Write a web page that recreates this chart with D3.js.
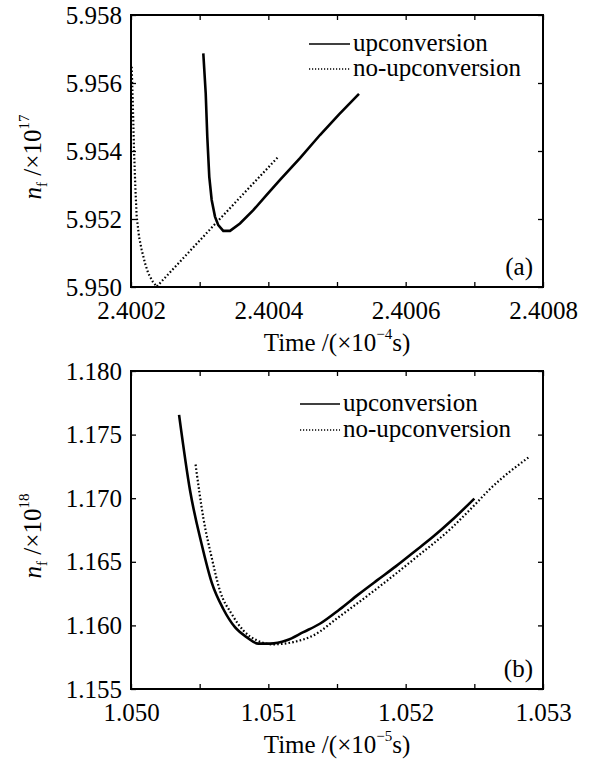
<!DOCTYPE html>
<html><head><meta charset="utf-8">
<script src="https://cdn.jsdelivr.net/npm/d3@7/dist/d3.min.js"></script>
<style>
body{margin:0;background:#fff;}
svg text{font-family:"Liberation Serif","Times New Roman",serif;fill:#000;}
</style></head>
<body><svg id="c" width="589" height="760"></svg>
<script>
// ---------- Panel (a) data ----------
const timeA_up = [2.4003053, 2.4003088, 2.4003111, 2.4003140, 2.4003175, 2.4003223, 2.4003271, 2.4003344, 2.4003442, 2.4003587, 2.4003781, 2.4003976, 2.4004170, 2.4004461, 2.4004752, 2.4005030, 2.4005320];
const nfA_up   = [5.95687, 5.95570, 5.95442, 5.95324, 5.95256, 5.95207, 5.95182, 5.95165, 5.95165, 5.95187, 5.95226, 5.95271, 5.95315, 5.95379, 5.95447, 5.95508, 5.95568];
const timeA_no = [2.4002010, 2.4002025, 2.4002044, 2.4002063, 2.4002083, 2.4002117, 2.4002156, 2.4002204, 2.4002252, 2.4002316, 2.4002374, 2.4003200, 2.4004145];
const nfA_no   = [5.95648, 5.95550, 5.95403, 5.95295, 5.95207, 5.95148, 5.95109, 5.95070, 5.95040, 5.95016, 5.95001, 5.95180, 5.95383];
const xTicksA = [2.4002, 2.4004, 2.4006, 2.4008];
const xMinorA = [2.4003, 2.4005, 2.4007];
const yTicksA = [5.950, 5.952, 5.954, 5.956, 5.958];

// ---------- Panel (b) data ----------
const timeB_up = [1.050350, 1.050430, 1.050515, 1.050588, 1.050672, 1.050757, 1.050842, 1.050927, 1.051012, 1.051134, 1.051255, 1.051378, 1.051518, 1.051654, 1.051791, 1.051928, 1.052065, 1.052201, 1.052338, 1.052500];
const nfB_up   = [1.17655, 1.17060, 1.16636, 1.16336, 1.16129, 1.15986, 1.15908, 1.15857, 1.15857, 1.15883, 1.15947, 1.16015, 1.16125, 1.16242, 1.16354, 1.16464, 1.16581, 1.16698, 1.16828, 1.16997];
const timeB_no = [1.050470, 1.050527, 1.050588, 1.050648, 1.050733, 1.050818, 1.050915, 1.051036, 1.051182, 1.051327, 1.051518, 1.051791, 1.052065, 1.052338, 1.052500, 1.052612, 1.052900];
const nfB_no   = [1.17265, 1.16843, 1.16531, 1.16272, 1.16090, 1.15960, 1.15883, 1.15851, 1.15869, 1.15921, 1.16070, 1.16290, 1.16525, 1.16770, 1.16945, 1.17070, 1.17325];
const xTicksB = [1.050, 1.051, 1.052, 1.053];
const xMinorB = [1.0505, 1.0515, 1.0525];
const yTicksB = [1.155, 1.160, 1.165, 1.170, 1.175, 1.180];

const seriesNames = ["upconversion", "no-upconversion"];

const FONT = '"Liberation Serif", "Times New Roman", serif';
const FS = "25px";
const svg = d3.select("#c");

function panel(o){
  const g = svg.append("g");
  const x = d3.scaleLinear().domain(o.xDomain).range([o.left, o.right]);
  const y = d3.scaleLinear().domain(o.yDomain).range([o.bottom, o.top]);
  const allX = o.xTicks.concat(o.xMinor).sort(d3.ascending);
  const gb = g.append("g").attr("transform",`translate(0,${o.bottom})`)
    .call(d3.axisBottom(x).tickValues(allX).tickSize(-5).tickSizeOuter(0).tickPadding(14)
      .tickFormat(d => o.xTicks.some(t=>Math.abs(t-d)<1e-9) ? o.xFmt(d) : ""));
  const gt = g.append("g").attr("transform",`translate(0,${o.top})`)
    .call(d3.axisTop(x).tickValues(allX).tickSize(-5).tickSizeOuter(0).tickFormat(""));
  const gl = g.append("g").attr("transform",`translate(${o.left},0)`)
    .call(d3.axisLeft(y).tickValues(o.yTicks).tickSize(-5).tickSizeOuter(0).tickPadding(9).tickFormat(d3.format(".3f")));
  const gr = g.append("g").attr("transform",`translate(${o.right},0)`)
    .call(d3.axisRight(y).tickValues(o.yTicks).tickSize(-5).tickSizeOuter(0).tickFormat(""));
  [gb,gt,gl,gr].forEach(a=>{
    a.attr("font-family", null).attr("font-size", null);
    a.select(".domain").remove();
    a.selectAll(".tick line").attr("stroke","#000").attr("stroke-width",1.3);
    a.selectAll(".tick text").style("font-family", FONT).style("font-size",FS).attr("fill","#000");
  });
  g.append("rect").attr("x",o.left).attr("y",o.top).attr("width",o.right-o.left).attr("height",o.bottom-o.top)
    .attr("fill","none").attr("stroke","#000").attr("stroke-width",2);

  const line = d3.line().x(d=>x(d[0])).y(d=>y(d[1])).curve(o.curve);
  const up = o.tUp.map((t,i)=>[t,o.vUp[i]]);
  const no = o.tNo.map((t,i)=>[t,o.vNo[i]]);
  g.append("path").attr("d",line(no)).attr("fill","none").attr("stroke","#000")
    .attr("stroke-width",2.2).attr("stroke-dasharray","1.6,2.2");
  g.append("path").attr("d",line(up)).attr("fill","none").attr("stroke","#000")
    .attr("stroke-width",2.6);

  const lg = g.append("g");
  seriesNames.forEach((nm,i)=>{
    const yy = o.legY + i*o.legDy;
    lg.append("line").attr("x1",o.legX).attr("x2",o.legX+o.legLen).attr("y1",yy).attr("y2",yy)
      .attr("stroke","#000").attr("stroke-width", i===0?1.6:1.4)
      .attr("stroke-dasharray", i===0? null : "1.2,1.8");
    lg.append("text").attr("x",o.legX+o.legLen+3).attr("y",yy+7)
      .style("font-family", FONT).style("font-size",FS).text(nm);
  });
  g.append("text").attr("x",o.right-10).attr("y",o.bottom-12).attr("text-anchor","end")
    .style("font-family", FONT).style("font-size",FS).text(o.tag);

  const yt = g.append("text").attr("transform",`translate(${o.left-90},${(o.top+o.bottom)/2+6}) rotate(-90)`)
    .attr("text-anchor","middle").style("font-family", FONT).style("font-size",FS);
  yt.append("tspan").style("font-style","italic").text("n");
  yt.append("tspan").attr("dy",6).style("font-size","15px").text("f");
  yt.append("tspan").attr("dy",-6).text(" /×10");
  yt.append("tspan").attr("dy",-12).style("font-size","15px").text(o.yExp);
  const xt = g.append("text").attr("x",(o.left+o.right)/2).attr("y",o.bottom+64)
    .attr("text-anchor","middle").style("font-family", FONT).style("font-size",FS);
  xt.append("tspan").text("Time /(×10");
  xt.append("tspan").attr("dy",-12).style("font-size","15px").text(o.xExp);
  xt.append("tspan").attr("dy",12).text("s)");
}

panel({left:131,right:543,top:15,bottom:287,
  xDomain:[2.4002,2.4008], yDomain:[5.950,5.958],
  xTicks:xTicksA, xMinor:xMinorA, yTicks:yTicksA, xFmt:d3.format(".4f"),
  tUp:timeA_up, vUp:nfA_up, tNo:timeA_no, vNo:nfA_no, curve:d3.curveLinear,
  legX:309, legY:44, legDy:25, legLen:41, tag:"(a)", yExp:"17", xExp:"−4"});

panel({left:131,right:543,top:371,bottom:689,
  xDomain:[1.050,1.053], yDomain:[1.155,1.180],
  xTicks:xTicksB, xMinor:xMinorB, yTicks:yTicksB, xFmt:d3.format(".3f"),
  tUp:timeB_up, vUp:nfB_up, tNo:timeB_no, vNo:nfB_no, curve:d3.curveMonotoneX,
  legX:300, legY:404, legDy:26, legLen:40, tag:"(b)", yExp:"18", xExp:"−5"});
</script></body></html>
